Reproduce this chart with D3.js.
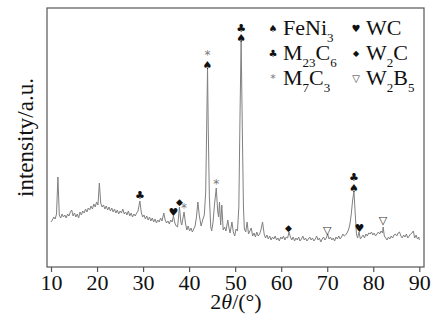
<!DOCTYPE html>
<html>
<head>
<meta charset="utf-8">
<script src="https://cdn.jsdelivr.net/npm/d3@7"></script>
<style>
  body { margin: 0; background: #fff; }
  svg { display: block; }
</style>
</head>
<body>
<svg id="chart" width="433" height="321"></svg>
<script>
// XRD pattern: [2theta, intensity]
const pattern = [
  [10.0,45],[10.3,47],[10.6,50],[10.9,48],[11.2,53],[11.5,90],[11.8,52],[12.1,49],[12.4,53],[12.7,50],
  [13.0,52],[13.3,49],[13.6,53],[13.9,51],[14.2,55],[14.5,57],[14.8,51],[15.1,54],[15.4,50],[15.7,53],
  [16.0,49],[16.3,55],[16.6,52],[16.9,56],[17.2,54],[17.5,58],[17.8,55],[18.1,59],[18.4,57],[18.7,61],
  [19.0,58],[19.3,63],[19.6,60],[19.9,65],[20.2,62],[20.5,84],[20.8,64],[21.1,60],[21.4,62],[21.7,58],
  [22.0,61],[22.3,57],[22.6,60],[22.9,56],[23.2,59],[23.5,55],[23.8,58],[24.1,54],[24.4,57],[24.7,53],
  [25.0,56],[25.3,54],[25.6,58],[25.9,53],[26.2,55],[26.5,52],[26.8,56],[27.1,51],[27.4,54],[27.7,50],
  [28.0,53],[28.3,51],[28.6,54],[28.9,56],[29.3,66],[29.6,55],[29.9,50],[30.2,52],[30.5,48],[30.8,51],
  [31.1,47],[31.4,50],[31.7,46],[32.0,49],[32.3,45],[32.6,48],[32.9,44],[33.2,47],[33.5,45],[33.8,49],
  [34.1,46],[34.5,54],[34.8,47],[35.1,44],[35.4,46],[35.7,43],[36.0,47],[36.3,45],[36.6,51],[36.9,44],
  [37.2,41],[37.5,40],[37.9,60],[38.2,45],[38.4,42],[38.9,55],[39.2,44],[39.5,37],[39.8,41],[40.1,36],
  [40.4,39],[40.7,35],[41.0,38],[41.3,41],[41.6,50],[41.9,65],[42.2,52],[42.6,41],[43.0,48],[43.3,52],
  [43.6,75],[43.85,150],[44.0,199],[44.15,140],[44.4,70],[44.7,40],[44.9,36],[45.2,45],[45.5,62],[45.9,79],
  [46.2,56],[46.4,50],[46.6,65],[46.85,42],[47.1,62],[47.4,37],[47.7,40],[48.0,36],[48.4,47],[48.7,38],
  [48.9,34],[49.3,45],[49.6,35],[49.9,31],[50.2,38],[50.5,36],[50.8,60],[51.05,150],[51.3,227],[51.55,140],
  [51.8,60],[52.0,38],[52.3,35],[52.6,45],[52.9,33],[53.2,36],[53.5,39],[53.8,31],[54.1,34],[54.4,30],
  [54.7,35],[55.0,31],[55.3,33],[55.6,37],[55.95,45],[56.3,33],[56.6,29],[56.9,32],[57.2,28],[57.5,31],
  [57.8,27],[58.1,30],[58.4,28],[58.7,31],[59.0,27],[59.3,29],[59.6,26],[59.9,30],[60.2,28],[60.5,31],
  [60.8,27],[61.1,30],[61.4,29],[61.7,35],[62.0,30],[62.3,27],[62.6,30],[62.9,26],[63.2,29],[63.5,27],
  [63.8,30],[64.1,26],[64.4,28],[64.7,31],[65.0,27],[65.3,29],[65.6,26],[65.9,28],[66.2,30],[66.5,27],
  [66.8,29],[67.1,26],[67.4,28],[67.7,31],[68.0,27],[68.3,29],[68.6,25],[68.9,28],[69.2,30],[69.5,27],
  [69.8,29],[70.1,33],[70.4,28],[70.7,30],[71.0,27],[71.3,29],[71.6,26],[71.9,30],[72.2,28],[72.5,31],
  [72.8,28],[73.1,30],[73.4,33],[73.7,31],[74.0,32],[74.3,34],[74.6,37],[74.9,42],[75.2,52],[75.5,66],
  [75.8,76],[76.1,52],[76.35,33],[76.6,29],[76.9,35],[77.2,28],[77.5,30],[77.8,32],[78.1,29],[78.4,33],
  [78.7,31],[79.0,34],[79.3,33],[79.6,35],[79.9,32],[80.2,34],[80.5,31],[80.8,33],[81.1,35],[81.4,33],
  [81.7,36],[82.0,34],[82.15,40],[82.4,31],[82.7,29],[83.0,27],[83.3,30],[83.6,28],[83.9,31],[84.2,29],
  [84.5,32],[84.8,33],[85.1,31],[85.4,34],[85.7,35],[86.0,31],[86.3,29],[86.6,32],[86.9,30],[87.2,33],
  [87.5,29],[87.8,31],[88.1,33],[88.4,34],[88.7,36],[89.0,29],[89.3,32],[89.6,28],[89.9,30],[90.0,27]
];

// phase markers above the peaks: [2theta, height, phase]
const peakMarks = [
  [29.3, 72, 'club'], [36.6, 55, 'heart'], [37.9, 65, 'diamond'], [38.9, 59, 'star'],
  [44.0, 202, 'spade'], [44.0, 212, 'star'], [45.9, 83, 'star'],
  [51.3, 229, 'spade'], [51.3, 239, 'club'],
  [61.6, 39, 'diamond'], [70.0, 37, 'tri'],
  [75.8, 79, 'spade'], [75.8, 90, 'club'], [77.0, 39, 'heart'], [82.1, 47, 'tri']
];

const xTicks = [10, 20, 30, 40, 50, 60, 70, 80, 90];

// legend: symbol, text pieces [text, isSubscript]
const legendItems = [
  { sym: 'spade', parts: [['FeNi', 0], ['3', 1]] },
  { sym: 'club', parts: [['M', 0], ['23', 1], ['C', 0], ['6', 1]] },
  { sym: 'star', parts: [['M', 0], ['7', 1], ['C', 0], ['3', 1]] },
  { sym: 'heart', parts: [['WC', 0]] },
  { sym: 'diamond', parts: [['W', 0], ['2', 1], ['C', 0]] },
  { sym: 'tri', parts: [['W', 0], ['2', 1], ['B', 0], ['5', 1]] }
];

const glyphs = {
  spade: { ch: '\u2660\uFE0E', color: '#111', size: 11 },
  club: { ch: '\u2663\uFE0E', color: '#111', size: 11 },
  heart: { ch: '\u2665\uFE0E', color: '#111', size: 11 },
  diamond: { ch: '\u25C6', color: '#111', size: 9 },
  star: { ch: '*', color: '#777', size: 12 },
  tri: { ch: '\u25BD', color: '#333', size: 11 }
};

const svg = d3.select('#chart');
const plotL = 47, plotR = 424, plotT = 8, plotB = 267;

const x = d3.scaleLinear().domain([9.13, 91.02]).range([plotL, plotR]);
const y = d3.scaleLinear().domain([0, 259]).range([plotB, plotT]);

const serif = '"Liberation Serif", "Times New Roman", serif';

// frame
svg.append('rect')
  .attr('x', plotL).attr('y', plotT)
  .attr('width', plotR - plotL).attr('height', plotB - plotT)
  .attr('fill', 'none').attr('stroke', '#555').attr('stroke-width', 1.2);

// x axis
const xAxis = svg.append('g')
  .attr('transform', `translate(0,${plotB})`)
  .call(d3.axisBottom(x).tickValues(xTicks).tickSize(5).tickSizeOuter(0).tickPadding(2));
xAxis.select('.domain').remove();
xAxis.selectAll('line').attr('stroke', '#555').attr('stroke-width', 1.2);
xAxis.selectAll('text')
  .attr('fill', '#111')
  .style('font-family', serif)
  .style('font-size', '22px');

// pattern line
svg.append('path')
  .datum(pattern)
  .attr('fill', 'none')
  .attr('stroke', '#808080')
  .attr('stroke-width', 1)
  .attr('d', d3.line().x(d => x(d[0])).y(d => y(d[1])));

// peak markers
svg.selectAll('.mark')
  .data(peakMarks)
  .enter().append('text')
  .attr('class', 'mark')
  .attr('x', d => x(d[0]))
  .attr('y', d => y(d[1]))
  .attr('text-anchor', 'middle')
  .attr('dominant-baseline', 'central')
  .attr('fill', d => glyphs[d[2]].color)
  .style('font-family', '"DejaVu Sans"')
  .style('font-size', d => glyphs[d[2]].size + 'px')
  .text(d => glyphs[d[2]].ch);

// legend
const legend = svg.append('g');
legendItems.forEach((item, i) => {
  const col = Math.floor(i / 3), row = i % 3;
  const gx = col === 0 ? 273 : 356;
  const gy = 35 + row * 25;
  const g = glyphs[item.sym];
  legend.append('text')
    .attr('x', gx).attr('y', gy - 7)
    .attr('text-anchor', 'middle')
    .attr('dominant-baseline', 'central')
    .attr('fill', g.color)
    .style('font-family', '"DejaVu Sans"')
    .style('font-size', (g.size - 1) + 'px')
    .text(g.ch);
  const t = legend.append('text')
    .attr('x', gx + 10).attr('y', gy)
    .attr('fill', '#111')
    .style('font-family', serif)
    .style('font-size', '22px');
  let shift = 0;
  item.parts.forEach(p => {
    const target = p[1] ? 7 : 0;
    t.append('tspan')
      .attr('dy', target - shift)
      .style('font-size', p[1] ? '13px' : '22px')
      .text(p[0]);
    shift = target;
  });
});

// axis titles
svg.append('text')
  .attr('transform', `translate(33,${(plotT + plotB) / 2}) rotate(-90)`)
  .attr('text-anchor', 'middle')
  .attr('fill', '#111')
  .style('font-family', serif)
  .style('font-size', '23px')
  .text('intensity/a.u.');

const xt = svg.append('text')
  .attr('x', 236).attr('y', 309)
  .attr('text-anchor', 'middle')
  .attr('fill', '#111')
  .style('font-family', serif)
  .style('font-size', '22px');
xt.append('tspan').text('2');
xt.append('tspan').style('font-style', 'italic').text('\u03B8');
xt.append('tspan').text('/(\u00B0)');
</script>
</body>
</html>
